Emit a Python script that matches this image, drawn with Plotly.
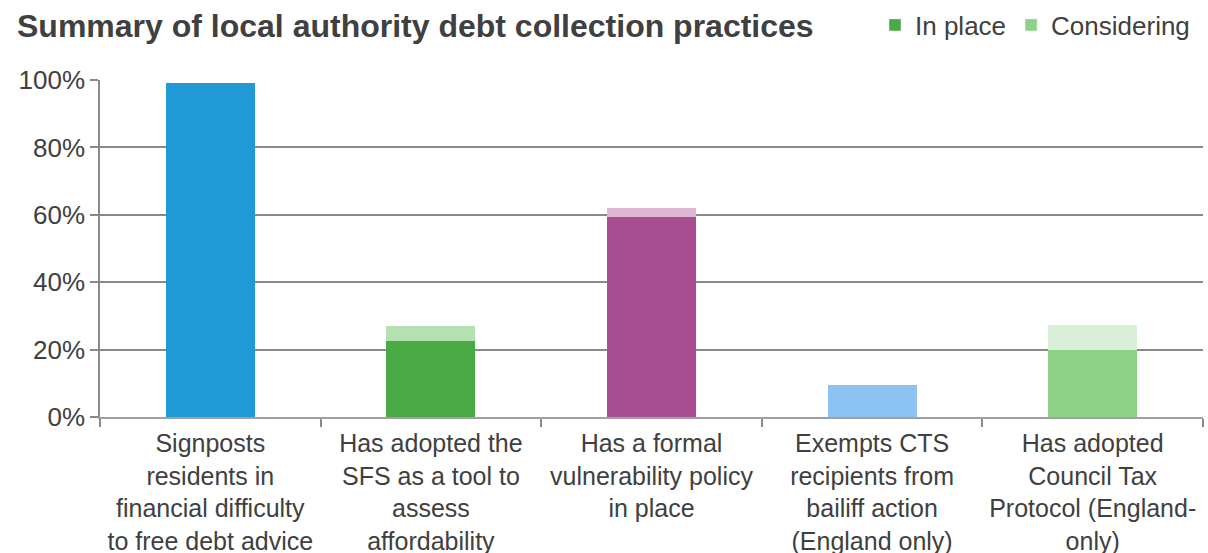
import plotly.graph_objects as go

categories = [
    "Signposts<br>residents in<br>financial difficulty<br>to free debt advice",
    "Has adopted the<br>SFS as a tool to<br>assess<br>affordability",
    "Has a formal<br>vulnerability policy<br>in place",
    "Exempts CTS<br>recipients from<br>bailiff action<br>(England only)",
    "Has adopted<br>Council Tax<br>Protocol (England-<br>only)",
]
in_place = [99.2, 22.5, 59.3, 9.4, 20.0]
considering = [0.0, 4.4, 2.7, 0.0, 7.3]

in_place_colors = ["#1F9AD7", "#4AAA46", "#A94F91", "#8DC3F3", "#8DD187"]
considering_colors = ["#1F9AD7", "#B5E1B2", "#DFB6D4", "#8DC3F3", "#DAEFD7"]

FONT = "Liberation Sans, Arial, sans-serif"
TXT = "#404040"

fig = go.Figure()
fig.add_trace(go.Bar(x=categories, y=in_place, marker=dict(color=in_place_colors, line=dict(width=0)),
                     showlegend=False, name="In place"))
fig.add_trace(go.Bar(x=categories, y=considering, marker=dict(color=considering_colors, line=dict(width=0)),
                     showlegend=False, name="Considering"))
# legend-only entries
fig.add_trace(go.Bar(x=[None], y=[None], name="In place", marker=dict(color="#4AAA46")))
fig.add_trace(go.Bar(x=[None], y=[None], name="Considering", marker=dict(color="#8DD187")))

fig.update_layout(
    width=1208, height=553,
    barmode="stack", bargap=0.596,
    paper_bgcolor="white", plot_bgcolor="white",
    margin=dict(l=100, r=5, t=80, b=136),
    font=dict(family=FONT, size=26, color=TXT),
    title=dict(text="<b>Summary of local authority debt collection practices</b>",
               font=dict(family=FONT, size=32, color=TXT),
               xref="container", yref="container", x=17/1208, xanchor="left",
               y=1-26/553, yanchor="middle"),
    legend=dict(orientation="h", xref="container", yref="container",
                x=1195/1208, xanchor="right", y=1-25/553, yanchor="middle",
                font=dict(family=FONT, size=26, color=TXT),
                bgcolor="rgba(0,0,0,0)", traceorder="normal", itemwidth=30,
                tracegroupgap=0),
)
fig.update_xaxes(
    type="category", tickson="boundaries", ticks="outside", ticklen=8, tickwidth=1.5,
    tickcolor="#8a8a8a", showline=True, linecolor="#a0a0a0", linewidth=2,
    showgrid=False, tickangle=0, automargin=False, ticklabelstandoff=3,
    tickfont=dict(family=FONT, size=25, color=TXT),
)
fig.update_yaxes(
    range=[0, 100], dtick=20, ticksuffix="%", ticks="outside", ticklen=8, tickwidth=1.5,
    tickcolor="#8a8a8a", showline=True, linecolor="#8a8a8a", linewidth=1.5,
    showgrid=True, gridcolor="#8a8a8a", gridwidth=1.5, zeroline=False, automargin=False,
    tickfont=dict(family=FONT, size=26, color=TXT),
)

fig.write_html("out.html")
